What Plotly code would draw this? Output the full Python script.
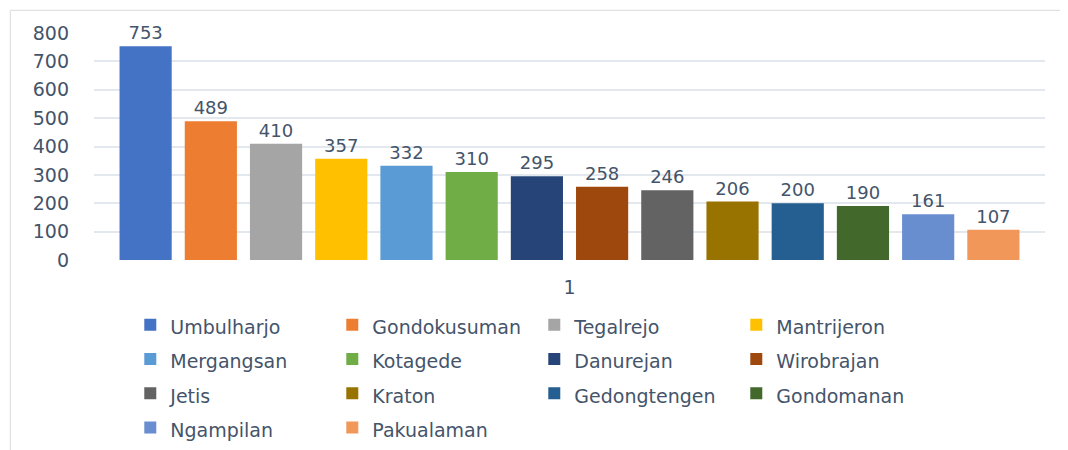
import plotly.graph_objects as go

districts = ["Umbulharjo", "Gondokusuman", "Tegalrejo", "Mantrijeron", "Mergangsan",
             "Kotagede", "Danurejan", "Wirobrajan", "Jetis", "Kraton",
             "Gedongtengen", "Gondomanan", "Ngampilan", "Pakualaman"]
counts = [753, 489, 410, 357, 332, 310, 295, 258, 246, 206, 200, 190, 161, 107]
colors = ["#4472C4", "#ED7D31", "#A5A5A5", "#FFC000", "#5B9BD5", "#70AD47",
          "#264478", "#9E480E", "#636363", "#997300", "#255E91", "#43682B",
          "#698ED0", "#F1975A"]
category = ["1"]

txt = "#44546A"
fnt = "DejaVu Sans"

fig = go.Figure()
for name, val, col in zip(districts, counts, colors):
    fig.add_trace(go.Bar(
        x=category, y=[val],
        name=f"<span style='font-size:19px'>{name}</span>",
        marker=dict(color=col, line=dict(width=0)),
        text=[val], textposition="outside", cliponaxis=False,
        textfont=dict(family=fnt, size=18, color=txt),
    ))

fig.update_layout(
    width=1068, height=450,
    margin=dict(l=86, r=31, t=25, b=198),
    barmode="group", bargap=0.04, bargroupgap=0.2,
    paper_bgcolor="white", plot_bgcolor="white",
    font=dict(family=fnt, size=18, color=txt),
    showlegend=True,
    legend=dict(
        orientation="h", xref="container", yref="container",
        x=0.1145, y=0.345, xanchor="left", yanchor="top",
        entrywidth=157, entrywidthmode="pixels",
        font=dict(family=fnt, size=24, color=txt),
        traceorder="normal",
    ),
    shapes=[dict(type="rect", xref="paper", yref="paper",
                 x0=-0.088, x1=1.05, y0=-0.9, y1=1.1,
                 line=dict(color="#D9D9D9", width=1), layer="below")],
)
fig.update_yaxes(range=[0, 800], dtick=100, showgrid=True, gridcolor="#E3E7EE",
                 gridwidth=2, zeroline=False, showline=False, automargin=False,
                 ticklabelstandoff=24, tickfont=dict(size=19))
fig.update_xaxes(showline=False, showgrid=False, automargin=False,
                 ticklabelstandoff=14, tickfont=dict(size=19))

fig.write_html("out.html")
